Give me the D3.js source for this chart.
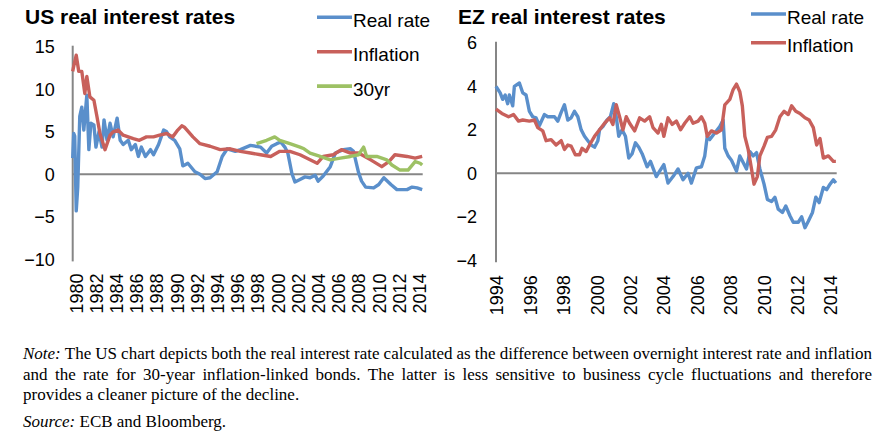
<!DOCTYPE html>
<html>
<head>
<meta charset="utf-8">
<script src="https://cdn.jsdelivr.net/npm/d3@7"></script>
<style>
  body { margin: 0; background: #fff; }
  svg { display: block; }
  .tick text, .leg text { font-family: "Liberation Sans", Arial, sans-serif; fill: #000; }
  .note text { font-family: "Liberation Serif", "Times New Roman", serif; font-size: 17px; fill: #000; }
</style>
</head>
<body>
<svg id="chart" width="878" height="440"></svg>
<script>
// ---- data: [year, percent] ----
const usRealRate = [
  [1980.0, 1.9], [1980.1, 4.8], [1980.2, 4.5], [1980.35, -4.3], [1980.5, -1.5], [1980.7, 6.8],
  [1980.9, 7.9], [1981.1, 5.2], [1981.4, 9.3], [1981.6, 2.9], [1981.8, 6.0], [1982.1, 5.8],
  [1982.3, 3.2], [1982.6, 5.0], [1982.9, 3.2], [1983.1, 6.4], [1983.4, 4.0], [1983.7, 6.0],
  [1984.0, 4.4], [1984.4, 6.6], [1984.7, 4.0], [1985.0, 3.5], [1985.5, 4.0], [1985.8, 2.9],
  [1986.2, 3.5], [1986.5, 2.1], [1986.8, 3.2], [1987.2, 2.1], [1987.7, 2.9], [1988.0, 2.3],
  [1988.5, 3.5], [1989.0, 5.2], [1989.3, 5.0], [1989.6, 4.4], [1990.1, 4.0], [1990.6, 3.0],
  [1990.9, 1.0], [1991.1, 1.1], [1991.4, 1.3], [1992.1, 0.3], [1992.6, 0.0], [1993.1, -0.5],
  [1993.6, -0.4], [1994.3, 0.3], [1994.8, 2.1], [1995.3, 3.0], [1996.1, 2.7], [1996.6, 2.9],
  [1997.6, 3.4], [1998.6, 3.2], [1999.2, 2.5], [1999.7, 3.3], [2000.2, 3.6], [2000.6, 3.8],
  [2001.0, 3.2], [2001.3, 2.5], [2001.7, 0.1], [2002.0, -0.9], [2002.5, -0.6], [2003.0, -0.3],
  [2003.5, -0.4], [2004.0, -0.1], [2004.3, -0.8], [2004.8, -0.2], [2005.5, 0.9], [2006.0, 2.5],
  [2006.8, 2.9], [2007.5, 3.0], [2007.8, 2.7], [2008.3, 0.2], [2008.6, -0.8], [2009.0, -1.5],
  [2009.8, -1.6], [2010.3, -1.2], [2010.8, -0.4], [2011.5, -1.2], [2012.1, -1.8], [2013.1, -1.8],
  [2013.6, -1.5], [2014.1, -1.6], [2014.6, -1.8]
];
const usInflation = [
  [1980.0, 12.1], [1980.1, 12.7], [1980.35, 14.0], [1980.6, 12.1], [1980.9, 12.1], [1981.2, 9.5],
  [1981.4, 11.5], [1981.7, 9.1], [1982.1, 8.7], [1982.4, 6.8], [1982.7, 4.8], [1983.2, 2.9],
  [1983.7, 4.6], [1984.0, 5.0], [1984.5, 5.2], [1985.0, 4.6], [1985.5, 4.4], [1986.0, 4.2],
  [1986.6, 4.0], [1987.3, 4.4], [1988.0, 4.4], [1988.6, 4.6], [1989.3, 4.8], [1989.9, 4.4],
  [1990.4, 5.2], [1990.8, 5.7], [1991.1, 5.5], [1991.9, 4.4], [1992.6, 3.6], [1993.6, 3.3],
  [1994.6, 2.9], [1995.6, 3.0], [1996.6, 2.7], [1997.6, 2.5], [1998.6, 2.3], [1999.6, 2.1],
  [2000.5, 2.7], [2001.5, 2.7], [2002.5, 2.3], [2003.5, 1.7], [2004.2, 1.3], [2004.8, 2.1],
  [2005.8, 2.3], [2006.6, 2.9], [2007.5, 2.5], [2008.3, 2.5], [2009.5, 1.7], [2010.6, 0.9],
  [2011.3, 1.5], [2011.9, 2.3], [2013.1, 2.1], [2013.9, 1.9], [2014.6, 2.1]
];
const us30yr = [
  [1998.2, 3.6], [1999.2, 4.0], [2000.0, 4.4], [2000.5, 4.0], [2001.5, 3.6], [2002.5, 3.2],
  [2002.9, 3.0], [2003.5, 2.5], [2004.5, 2.1], [2005.5, 1.7], [2006.5, 1.9], [2007.5, 2.1],
  [2008.3, 2.3], [2008.8, 3.2], [2009.1, 2.1], [2010.1, 2.1], [2011.1, 1.7], [2011.6, 1.1],
  [2012.4, 0.5], [2013.2, 0.5], [2013.9, 1.5], [2014.4, 1.3], [2014.6, 1.1]
];
const ezRealRate = [
  [1994.0, 4.0], [1994.25, 3.7], [1994.4, 3.4], [1994.55, 3.6], [1994.7, 3.2], [1994.8, 3.6],
  [1995.0, 3.1], [1995.1, 4.0], [1995.4, 4.15], [1995.6, 3.7], [1995.8, 3.6], [1996.0, 2.85],
  [1996.2, 2.6], [1996.4, 2.55], [1996.6, 2.2], [1996.9, 2.7], [1997.1, 2.6], [1997.5, 2.6],
  [1997.7, 2.4], [1997.9, 2.8], [1998.1, 3.15], [1998.3, 2.45], [1998.5, 2.55], [1998.7, 2.85],
  [1998.9, 2.6], [1999.1, 2.0], [1999.3, 1.7], [1999.5, 1.5], [1999.7, 1.3], [1999.9, 1.2],
  [2000.1, 1.5], [2000.2, 2.0], [2000.4, 2.15], [2000.65, 2.45], [2000.85, 2.6], [2001.05, 3.2],
  [2001.2, 2.6], [2001.35, 1.7], [2001.55, 2.0], [2001.75, 1.7], [2001.95, 0.7], [2002.15, 0.9],
  [2002.35, 1.4], [2002.55, 1.2], [2002.75, 0.9], [2003.05, 0.3], [2003.25, 0.55], [2003.45, 0.15],
  [2003.6, -0.15], [2003.8, 0.1], [2004.05, 0.4], [2004.3, -0.45], [2004.6, -0.15], [2004.9, 0.2],
  [2005.2, -0.3], [2005.5, 0.0], [2005.7, -0.45], [2006.0, 0.25], [2006.3, 0.3], [2006.5, 0.8],
  [2006.65, 1.7], [2006.8, 1.55], [2007.1, 1.85], [2007.4, 2.15], [2007.6, 2.45], [2007.7, 1.15],
  [2007.9, 0.8], [2008.1, 0.6], [2008.4, 0.1], [2008.6, 0.8], [2008.8, 0.5], [2009.0, 0.2],
  [2009.2, 1.0], [2009.4, 0.8], [2009.6, 0.95], [2009.8, 0.2], [2010.05, -0.5], [2010.25, -1.2],
  [2010.5, -1.3], [2010.7, -1.1], [2010.9, -1.65], [2011.15, -1.8], [2011.35, -1.5], [2011.6, -1.95],
  [2011.8, -2.25], [2012.1, -2.25], [2012.3, -2.0], [2012.5, -2.5], [2012.7, -2.2], [2012.95, -1.8],
  [2013.15, -1.1], [2013.35, -1.35], [2013.6, -0.65], [2013.8, -0.75], [2014.0, -0.5], [2014.2, -0.3],
  [2014.35, -0.45]
];
const ezInflation = [
  [1994.0, 2.95], [1994.35, 2.75], [1994.75, 2.6], [1995.05, 2.7], [1995.35, 2.4], [1995.6, 2.45],
  [1996.0, 2.4], [1996.3, 2.45], [1996.5, 2.1], [1996.8, 1.95], [1997.0, 1.5], [1997.3, 1.55],
  [1997.6, 1.3], [1997.9, 1.5], [1998.1, 1.1], [1998.3, 1.3], [1998.5, 1.25], [1998.75, 0.85],
  [1999.0, 0.85], [1999.15, 1.15], [1999.4, 1.0], [1999.6, 1.3], [1999.9, 1.7], [2000.2, 2.0],
  [2000.5, 2.3], [2000.8, 2.55], [2001.0, 2.25], [2001.2, 3.15], [2001.4, 2.6], [2001.6, 2.0],
  [2001.8, 2.6], [2002.0, 2.3], [2002.3, 1.95], [2002.6, 2.55], [2002.9, 2.4], [2003.2, 2.6],
  [2003.4, 2.1], [2003.7, 1.85], [2003.9, 2.25], [2004.05, 1.7], [2004.3, 2.55], [2004.55, 2.25],
  [2004.8, 2.4], [2005.05, 2.0], [2005.3, 2.3], [2005.6, 2.6], [2005.8, 2.3], [2006.1, 2.4],
  [2006.3, 2.6], [2006.5, 2.3], [2006.65, 1.7], [2006.9, 1.95], [2007.2, 1.85], [2007.5, 2.0],
  [2007.7, 3.15], [2008.0, 3.4], [2008.2, 3.85], [2008.4, 4.1], [2008.6, 3.75], [2008.75, 3.1],
  [2008.9, 1.7], [2009.1, 1.1], [2009.3, 0.2], [2009.45, -0.5], [2009.65, -0.15], [2009.8, 0.8],
  [2010.05, 1.25], [2010.25, 1.65], [2010.5, 1.7], [2010.75, 2.0], [2011.0, 2.6], [2011.25, 2.85],
  [2011.5, 2.7], [2011.7, 3.1], [2011.95, 2.85], [2012.2, 2.75], [2012.5, 2.55], [2012.75, 2.45],
  [2013.0, 2.1], [2013.2, 1.3], [2013.4, 1.6], [2013.6, 0.7], [2013.9, 0.8], [2014.2, 0.55],
  [2014.35, 0.55]
];

const usYTicks = [15, 10, 5, 0, -5, -10];
const ezYTicks = [6, 4, 2, 0, -2, -4];
const usYears = d3.range(1980, 2015, 2);
const ezYears = d3.range(1994, 2015, 2);

const BLUE = "#5A8FCB", RED = "#C8605B", GREEN = "#9DC164", AXIS = "#868686";

const svg = d3.select("#chart");

function drawPanel(p) {
  const x = d3.scaleLinear().domain(p.xDomain).range(p.xRange);
  const y = d3.scaleLinear().domain(p.yDomain).range(p.yRange);
  const g = svg.append("g");

  g.append("text")
    .attr("x", p.titleX).attr("y", 24)
    .attr("font-family", "Liberation Sans, Arial, sans-serif")
    .attr("font-weight", "bold").attr("font-size", 21)
    .text(p.title);

  // y labels, no tick marks
  g.append("g")
    .attr("transform", `translate(${p.xRange[0]},0)`)
    .call(d3.axisLeft(y).tickValues(p.yTicks).tickSize(0).tickPadding(p.yPad).tickFormat(d3.format("d")))
    .call(a => a.select(".domain").remove())
    .selectAll("text").attr("font-size", 18);

  // x labels, rotated
  g.append("g")
    .attr("transform", `translate(0,${p.yRange[0]})`)
    .call(d3.axisBottom(x).tickValues(p.years).tickSize(0).tickFormat(d3.format("d")))
    .call(a => a.select(".domain").remove())
    .selectAll("text")
      .attr("font-size", 18)
      .attr("text-anchor", "end")
      .attr("transform", `translate(${p.labelShift},0) rotate(-90)`)
      .attr("x", -p.xPad).attr("y", 0).attr("dy", "0.35em");

  // vertical axis and zero line
  g.append("line")
    .attr("x1", p.xRange[0]).attr("x2", p.xRange[0])
    .attr("y1", p.yRange[1] - 1).attr("y2", p.yRange[0] + 2)
    .attr("stroke", AXIS).attr("stroke-width", 2);
  g.append("line")
    .attr("x1", p.xRange[0]).attr("x2", p.xRange[1])
    .attr("y1", y(0)).attr("y2", y(0))
    .attr("stroke", AXIS).attr("stroke-width", 2);

  const line = d3.line().x(d => x(d[0])).y(d => y(d[1]));
  p.series.forEach(s => {
    g.append("path")
      .datum(s.data)
      .attr("fill", "none")
      .attr("stroke", s.color)
      .attr("stroke-width", 3.4)
      .attr("stroke-linejoin", "round")
      .attr("d", line);
  });

  // legend
  const leg = g.append("g").attr("class", "leg");
  p.series.forEach((s, i) => {
    const ly = p.legY + i * p.legStep;
    leg.append("line")
      .attr("x1", p.legX).attr("x2", p.legX + 35)
      .attr("y1", ly).attr("y2", ly)
      .attr("stroke", s.color).attr("stroke-width", 3.6);
    leg.append("text")
      .attr("x", p.legX + 36).attr("y", ly + 9.5)
      .attr("font-size", 19)
      .text(s.name);
  });
}

drawPanel({
  title: "US real interest rates", titleX: 25,
  xDomain: [1980, 2014.65], xRange: [72.7, 422.7],
  yDomain: [-10, 15], yRange: [259.4, 46.7],
  yTicks: usYTicks, years: usYears, yPad: 18, xPad: 14, labelShift: 3,
  legX: 317, legY: 17.3, legStep: 34.4,
  series: [
    { name: "Real rate", data: usRealRate, color: BLUE },
    { name: "Inflation", data: usInflation, color: RED },
    { name: "30yr", data: us30yr, color: GREEN }
  ]
});

drawPanel({
  title: "EZ real interest rates", titleX: 458,
  xDomain: [1994, 2014.4], xRange: [496, 836.7],
  yDomain: [-4, 6], yRange: [260.3, 42.8],
  yTicks: ezYTicks, years: ezYears, yPad: 19, xPad: 15, labelShift: 0.5,
  legX: 751, legY: 14, legStep: 28.7,
  series: [
    { name: "Real rate", data: ezRealRate, color: BLUE },
    { name: "Inflation", data: ezInflation, color: RED }
  ]
});

// ---- note under the charts (justified like the source document) ----
const noteLeft = 23, noteRight = 872;
const noteRows = [
  { text: "Note: The US chart depicts both the real interest rate calculated as the difference between overnight interest rate and inflation", y: 359.3, italic: true, justify: true },
  { text: "and the rate for 30-year inflation-linked bonds. The latter is less sensitive to business cycle fluctuations and therefore", y: 380, italic: false, justify: true },
  { text: "provides a cleaner picture of the decline.", y: 400, italic: false, justify: false },
  { text: "Source: ECB and Bloomberg.", y: 427.3, italic: true, justify: false }
];
const note = svg.append("g").attr("class", "note");
noteRows.forEach(r => {
  const words = r.text.split(" ");
  const nodes = words.map((w, i) => note.append("text")
    .attr("y", r.y)
    .attr("font-style", r.italic && i === 0 ? "italic" : "normal")
    .text(w));
  const widths = nodes.map(n => n.node().getComputedTextLength());
  const gap = r.justify ? (noteRight - noteLeft - d3.sum(widths)) / (words.length - 1) : 4.25;
  let cx = noteLeft;
  nodes.forEach((n, i) => { n.attr("x", cx); cx += widths[i] + gap; });
});
</script>
</body>
</html>
